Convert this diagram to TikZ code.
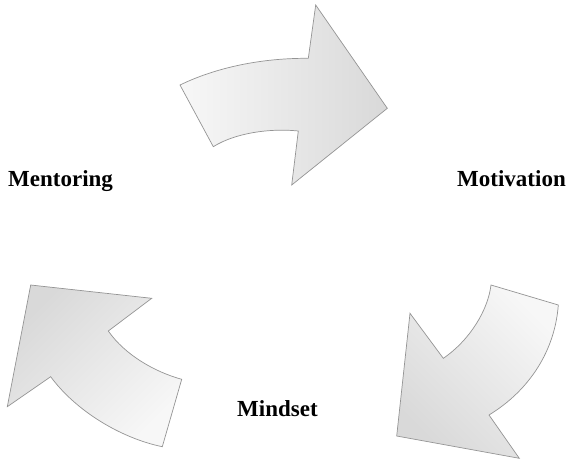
\documentclass[tikz,border=0pt]{standalone}
\usepackage{fontspec}
\setmainfont{Liberation Serif}
\begin{document}
\begin{tikzpicture}[x=1pt,y=-1pt,
  cyclearrow/.style={draw=black!42, line width=0.7pt, line join=miter},
  stagelabel/.style={anchor=base west, inner sep=0pt, font=\fontsize{23}{28}\selectfont\bfseries}]
\colorlet{arrowlight}{white!97!black}
\colorlet{arrowdark}{white!85!black}
\useasboundingbox (0,0) rectangle (570,461);

% top arrow: Mentoring -> Motivation
\path[cyclearrow, top color=arrowlight, bottom color=arrowdark, shading angle=90]
  (180,85) .. controls (215,68) and (260,58) .. (308.3,58.3)
  -- (315.7,5) -- (387.3,108.3) -- (291.7,185) -- (298.3,131)
  .. controls (270,128) and (235,133) .. (213.3,146.7) -- cycle;

% right arrow: Motivation -> Mindset
\path[cyclearrow, top color=arrowlight, bottom color=arrowdark, shading angle=-45]
  (491,285) -- (558.3,305)
  .. controls (555,350) and (530,390) .. (489,415)
  -- (519.3,458.3) -- (396.7,436) -- (410,313.3) -- (443.3,358.3)
  .. controls (470,340) and (488,310) .. (491,285) -- cycle;

% left arrow: Mindset -> Mentoring
\path[cyclearrow, top color=arrowlight, bottom color=arrowdark, shading angle=225]
  (162.3,446.7) -- (181.7,379.3)
  .. controls (155,372) and (125,355) .. (108.3,331)
  -- (151.7,298.3) -- (30.7,285) -- (7.3,406.7) -- (50.7,376.7)
  .. controls (75,410) and (120,438) .. (162.3,446.7) -- cycle;

\node[stagelabel] (mentoring) at (8,186) {Mentoring};
\node[stagelabel] (motivation) at (457,186) {Motivation};
\node[stagelabel] (mindset) at (237,416) {Mindset};
\end{tikzpicture}
\end{document}
